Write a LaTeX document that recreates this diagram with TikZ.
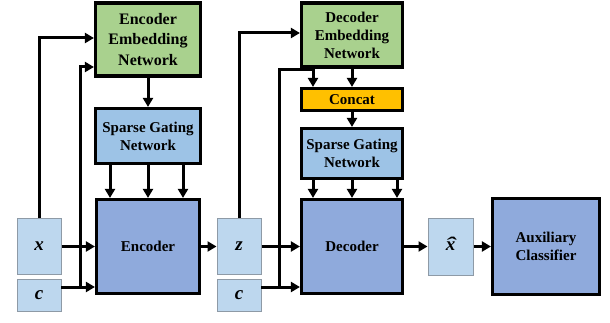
\documentclass[tikz,border=0pt]{standalone}
\usepackage{fontspec}
\setmainfont{Liberation Serif}
\usetikzlibrary{arrows.meta}
\definecolor{embgreen}{HTML}{A9D18E}
\definecolor{gateblue}{HTML}{9DC3E6}
\definecolor{mainblue}{HTML}{8FAADC}
\definecolor{inblue}{HTML}{BDD7EE}
\definecolor{inborder}{HTML}{8E9AA6}
\definecolor{concatorange}{HTML}{FFC000}
\tikzset{
  blk/.style={draw=black, line width=3.2pt, inner sep=0pt, align=center, font=\fontsize{15}{18}\selectfont\bfseries},
  embbox/.style={blk, fill=embgreen},
  gatebox/.style={blk, fill=gateblue},
  mainbox/.style={blk, fill=mainblue},
  catbox/.style={blk, fill=concatorange},
  inbox/.style={draw=inborder, line width=1pt, fill=inblue, inner sep=0pt, font=\fontsize{19}{22}\selectfont\bfseries\itshape},
  arr/.style={draw=black, line width=3pt, -{Triangle[length=9pt,width=10pt]}}
}
\begin{document}
\begin{tikzpicture}[x=1pt,y=-1pt]
\useasboundingbox (0,0) rectangle (610,323);
% encoder side
\node[embbox, minimum width=105pt, minimum height=73pt, font=\fontsize{16}{20.5}\selectfont\bfseries] (een) at (148,39.5) {Encoder\\Embedding\\Network};
\node[gatebox, minimum width=105pt, minimum height=55pt] (esg) at (148,136) {Sparse Gating\\Network};
\node[mainbox, minimum width=103pt, minimum height=94pt] (enc) at (148,246.5) {Encoder};
\node[inbox, minimum width=44pt, minimum height=56pt] (xin) at (39,246) {x};
\node[inbox, minimum width=44pt, minimum height=32pt] (cin1) at (39,295) {c};
% decoder side
\node[embbox, minimum width=101pt, minimum height=64pt] (den) at (352,35) {Decoder\\Embedding\\Network};
\node[catbox, minimum width=101pt, minimum height=22pt] (cat) at (352,99.5) {Concat};
\node[gatebox, minimum width=101pt, minimum height=50pt] (dsg) at (352,153.5) {Sparse Gating\\Network};
\node[mainbox, minimum width=101pt, minimum height=94pt] (dec) at (352,246.5) {Decoder};
\node[inbox, minimum width=44pt, minimum height=56pt] (zin) at (239,246) {z};
\node[inbox, minimum width=44pt, minimum height=32pt] (cin2) at (239,295) {c};
\node[inbox, minimum width=45pt, minimum height=57pt] (xhat) at (450.5,246.5) {\ooalign{x\cr\hidewidth\scalebox{1.6}[1]{\symbol{"02C6}}\hidewidth\cr}};
\node[mainbox, minimum width=107pt, minimum height=96pt] (aux) at (546,246.5) {Auxiliary\\Classifier};
% coordinates
\coordinate (c1o) at (61,287);
\coordinate (j1) at (80,287);
\coordinate (c2o) at (261,287);
\coordinate (j2) at (279,287);
\coordinate (k) at (313,70);
% encoder connectors
\draw[arr] (xin.north) |- ([yshift=1.5pt]een.west);
\draw[arr] (j1) |- ([yshift=-27.5pt]een.west);
\draw[arr] (xin.east |- enc.west) -- (enc.west);
\draw[arr] (c1o) -- (c1o -| enc.west);
\draw[arr] (een.south) -- (esg.north);
\draw[arr] ([xshift=-38pt]esg.south) -- ([xshift=-38pt]enc.north);
\draw[arr] (esg.south) -- (enc.north);
\draw[arr] ([xshift=35pt]esg.south) -- ([xshift=35pt]enc.north);
\draw[arr] (enc.east) -- (zin.west |- enc.east);
% decoder connectors
\draw[arr] (zin.north) |- ([yshift=2pt]den.west);
\draw[arr] (j2) |- (k) -- (k |- cat.north);
\draw[arr] (zin.east |- dec.west) -- (dec.west);
\draw[arr] (c2o) -- (c2o -| dec.west);
\draw[arr] (den.south) -- (cat.north);
\draw[arr] (cat.south) -- (dsg.north);
\draw[arr] ([xshift=-39pt]dsg.south) -- ([xshift=-39pt]dec.north);
\draw[arr] (dsg.south) -- (dec.north);
\draw[arr] ([xshift=45pt]dsg.south) -- ([xshift=45pt]dec.north);
\draw[arr] (dec.east) -- (xhat.west |- dec.east);
\draw[arr] (xhat.east) -- (aux.west |- xhat.east);
\end{tikzpicture}
\end{document}
